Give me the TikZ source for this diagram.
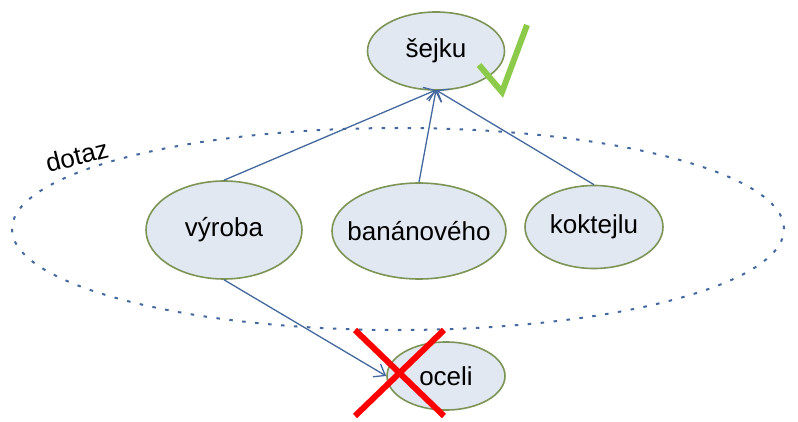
\documentclass[tikz,border=0pt]{standalone}
\usepackage{fontspec}
\setmainfont{Liberation Sans}
\usetikzlibrary{shapes.geometric,arrows.meta}
\definecolor{nodefill}{HTML}{E1E8F2}
\definecolor{nodeline}{HTML}{7C9455}
\definecolor{linkblue}{HTML}{43689E}
\definecolor{okgreen}{HTML}{8CCB4A}
\newcommand{\wordtext}[1]{\makebox[0pt]{#1}}
\begin{document}
\begin{tikzpicture}[x=1pt,y=-1pt,
  word/.style={ellipse,draw=nodeline,fill=nodefill,line width=1.6pt,inner sep=0pt,
    font=\fontsize{26}{30}\selectfont},
  link/.style={draw=linkblue,line width=1.3pt,-{Straight Barb[length=10pt,width=15pt,line width=1.3pt]}},
  stroke/.style={line width=6pt}]
\useasboundingbox (0,0) rectangle (798,422);
% query region
\draw[draw=linkblue,line width=2pt,dash pattern=on 3.5pt off 9.5pt]
  (398,229) ellipse [x radius=386pt,y radius=101pt];
\node[rotate=14,font=\fontsize{26}{30}\selectfont] (qlabel) at (77,156) {dotaz};
% word nodes
\node[word,minimum width=137pt,minimum height=78pt] (sejku) at (436,51) {\wordtext{šejku}};
\node[word,minimum width=156pt,minimum height=98pt] (vyroba) at (224,230) {\wordtext{výroba}};
\node[word,minimum width=174pt,minimum height=96pt] (bananoveho) at (419,231) {\wordtext{banánového}};
\node[word,minimum width=138pt,minimum height=83pt] (koktejlu) at (594,227) {\wordtext{koktejlu}};
\node[word,minimum width=118pt,minimum height=68pt] (oceli) at (446,376) {\wordtext{oceli}};
% links
\coordinate (sbot) at (436,90);
\draw[link] (vyroba.north) -- (sbot);
\draw[link] (bananoveho.north) -- (sbot);
\draw[link] (koktejlu.north) -- (sbot);
\draw[link] (vyroba.south) -- (oceli.west);
% check mark and cross
\coordinate (c1) at (479,65);
\coordinate (c2) at (502,92);
\coordinate (c3) at (527,25);
\draw[stroke,draw=okgreen,line join=miter] (c1) -- (c2) -- (c3);
\coordinate (x1) at (355,330);
\coordinate (x2) at (444,416);
\coordinate (x3) at (444,330);
\coordinate (x4) at (355,416);
\draw[stroke,draw=red] (x1) -- (x2);
\draw[stroke,draw=red] (x3) -- (x4);
\end{tikzpicture}
\end{document}
